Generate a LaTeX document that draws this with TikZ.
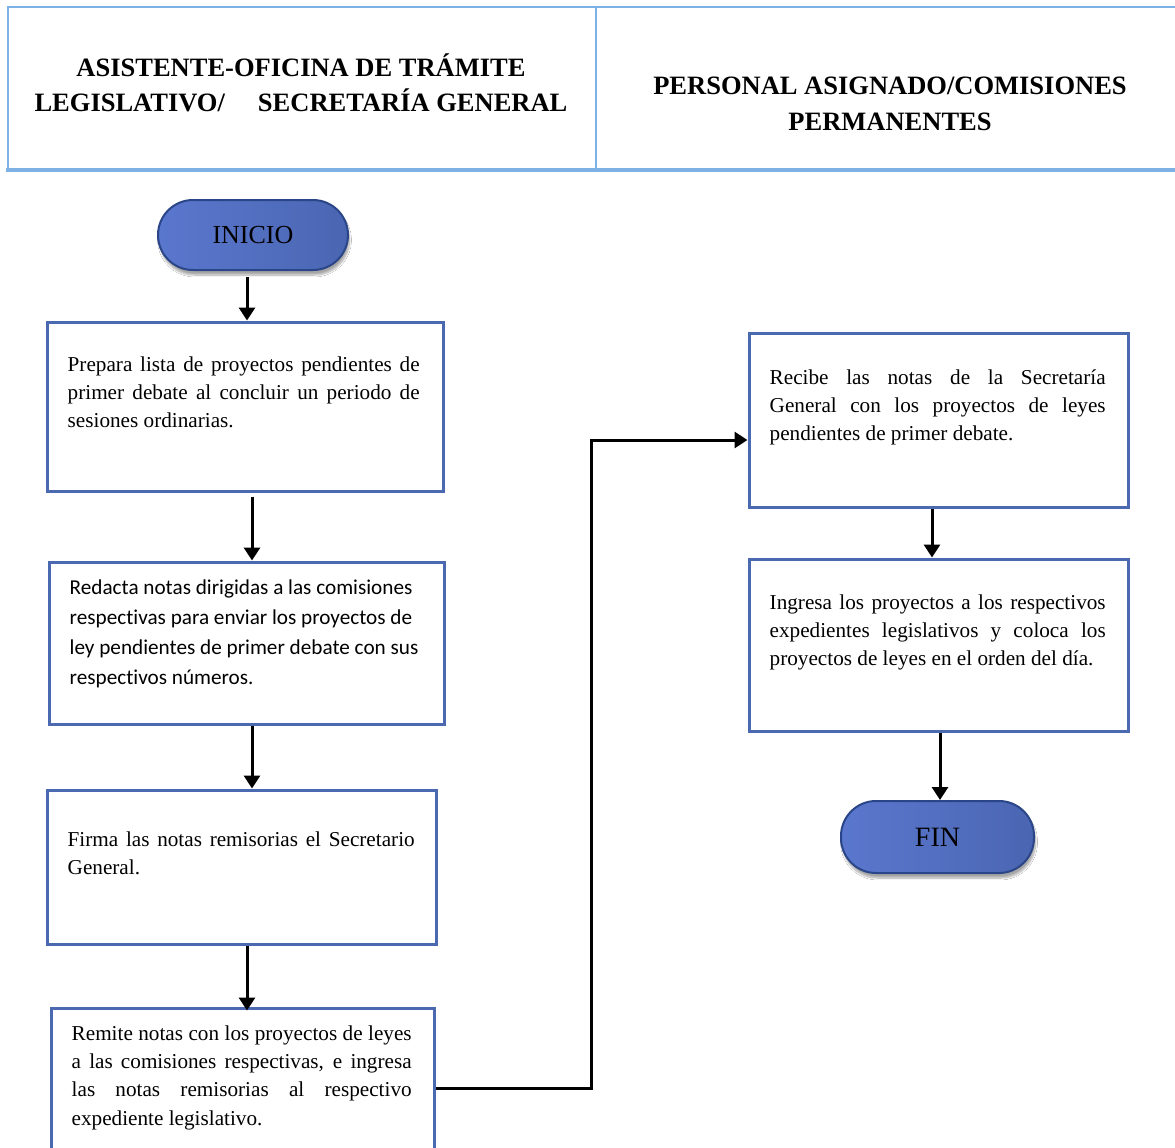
\documentclass[tikz,border=0pt]{standalone}
\usepackage{fontspec}
\setmainfont{Liberation Serif}
\newfontfamily\calibri[Ligatures=NoCommon]{Carlito}
\usetikzlibrary{arrows.meta,shadows.blur}

\definecolor{hdrline}{HTML}{7EB1E6}
\definecolor{boxline}{HTML}{4A69B1}
\definecolor{pillA}{HTML}{5A77CE}
\definecolor{pillB}{HTML}{4A66B2}
\definecolor{pillline}{HTML}{2A4688}

\tikzset{
  hdrrule/.style={hdrline, line width=2.5pt},
  hdrtext/.style={font=\bfseries\fontsize{26.5}{35.5}\selectfont, align=center, inner sep=0pt},
  stepbox/.style={draw=boxline, line width=3pt, fill=white, inner sep=0pt},
  pill/.style={draw=pillline, line width=2pt, rounded corners=35pt,
    left color=pillA, right color=pillB,
    blur shadow={shadow xshift=1.5pt, shadow yshift=-5pt, shadow opacity=35, shadow blur steps=10},
    inner sep=0pt},
  txt/.style={anchor=north west, inner sep=0pt, align=justify,
    font=\fontsize{21.2}{28.2}\selectfont},
  ctxt/.style={anchor=north west, inner sep=0pt, align=left,
    font=\calibri\fontsize{21.2}{30}\selectfont},
  arr/.style={line width=3pt, -{Triangle[length=13pt,width=16pt]}},
  link/.style={line width=3pt, -{Triangle[length=13pt,width=16pt]}}
}

\begin{document}
\begin{tikzpicture}[x=1pt,y=-1pt]
\useasboundingbox (0,0) rectangle (1175,1148);
\fill[white] (0,0) rectangle (1175,1148);

% header frame
\draw[hdrrule] (1175,7) -- (8,7) -- (8,170);
\draw[hdrrule] (596,7) -- (596,170);
\draw[hdrline, line width=4.5pt] (6,170) -- (1175,170);

\node[hdrtext] (h1) at (301,83) {ASISTENTE-OFICINA DE TRÁMITE\\LEGISLATIVO/\hspace{33pt}SECRETARÍA GENERAL};
\node[hdrtext] (h2) at (890,104) {PERSONAL ASIGNADO/COMISIONES\\PERMANENTES};

% terminals
\node[pill, minimum width=190pt, minimum height=70pt, font=\fontsize{26}{30}\selectfont] (inicio) at (253,235) {INICIO};
\node[pill, minimum width=193pt, minimum height=72pt, font=\fontsize{28}{32}\selectfont] (fin) at (937.5,837) {FIN};

% process boxes
\node[stepbox, minimum width=396pt, minimum height=169pt] (b1) at (245,406.5) {};
\node[stepbox, minimum width=395pt, minimum height=162pt] (b2) at (246.5,643) {};
\node[stepbox, minimum width=389pt, minimum height=154pt] (b3) at (241.5,867) {};
\node[stepbox, minimum width=383pt, minimum height=160pt] (b4) at (242.5,1088) {};
\node[stepbox, minimum width=379pt, minimum height=174pt] (b5) at (938.5,420) {};
\node[stepbox, minimum width=379pt, minimum height=172pt] (b6) at (938.5,645) {};

% box texts
\node[txt, text width=352pt] (t1) at ([shift={(22pt,-36pt)}]b1.north west)
  {Prepara lista de proyectos pendientes de primer debate al concluir un periodo de sesiones ordinarias.};
\node[ctxt] (t2) at ([shift={(22pt,-19pt)}]b2.north west)
  {Redacta notas dirigidas a las comisiones\\respectivas para enviar los proyectos de\\ley pendientes de primer debate con sus\\respectivos números.};
\node[txt, text width=347pt] (t3) at ([shift={(22pt,-43pt)}]b3.north west)
  {Firma las notas remisorias el Secretario General.};
\node[txt, text width=340pt] (t4) at ([shift={(22pt,-19pt)}]b4.north west)
  {Remite notas con los proyectos de leyes\linebreak a las comisiones respectivas, e ingresa\linebreak las notas remisorias al respectivo\linebreak expediente legislativo.};
\node[txt, text width=336pt] (t5) at ([shift={(22pt,-38pt)}]b5.north west)
  {Recibe las notas de la Secretaría\linebreak General con los proyectos de leyes\linebreak pendientes de primer debate.};
\node[txt, text width=336pt] (t6) at ([shift={(22pt,-37pt)}]b6.north west)
  {Ingresa los proyectos a los respectivos\linebreak expedientes legislativos y coloca los\linebreak proyectos de leyes en el orden del día.};

% connector guide points
\coordinate (x0) at (247,0);
\coordinate (x1) at (252,0);
\coordinate (x3) at (247,0);
\coordinate (x5) at (932,0);
\coordinate (x6) at (940,0);
\coordinate (bend) at (591,440);

% connectors
\draw[arr] (inicio.south -| x0) ++(0,6) -- (b1.north -| x0);
\draw[arr] (b1.south -| x1) ++(0,4) -- (b2.north -| x1);
\draw[arr] (b2.south -| x1) -- (b3.north -| x1);
\draw[arr] (b3.south -| x3) -- ([yshift=-4pt]b4.north -| x3);
\draw[link] (b4.east) -| (bend) -- (bend -| b5.west);
\draw[arr] (b5.south -| x5) -- (b6.north -| x5);
\draw[arr] (b6.south -| x6) -- (fin.north -| x6);
\end{tikzpicture}
\end{document}
